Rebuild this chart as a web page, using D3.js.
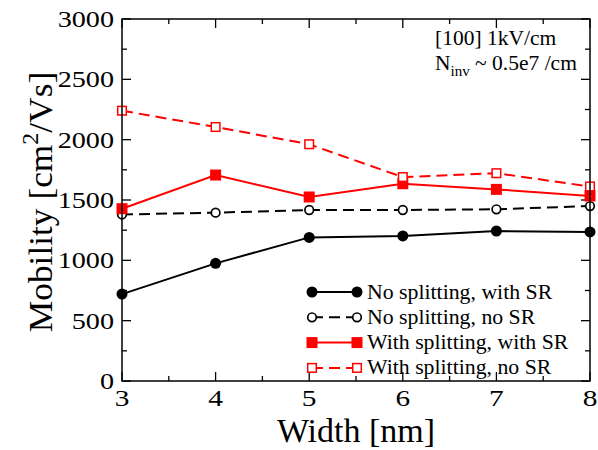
<!DOCTYPE html>
<html><head><meta charset="utf-8">
<script src="https://cdn.jsdelivr.net/npm/d3@7"></script>
<style>body{margin:0;background:#fff}svg{display:block}</style>
</head><body><svg id="c" width="598" height="450" font-family="'Liberation Serif', Tinos, 'Times New Roman', Times, 'DejaVu Serif', serif"></svg>
<script>
const widths = [3, 4, 5, 6, 7, 8];
const noSplitWithSR = [720, 975, 1190, 1202, 1243, 1235];
const noSplitNoSR = [1380, 1395, 1417, 1417, 1423, 1450];
const splitWithSR = [1428, 1707, 1525, 1635, 1588, 1533];
const splitNoSR = [2240, 2105, 1962, 1690, 1722, 1612];
const seriesNames = ["No splitting, with SR", "No splitting, no SR", "With splitting, with SR", "With splitting, no SR"];
const xTicks = [3, 4, 5, 6, 7, 8];
const yTicks = [0, 500, 1000, 1500, 2000, 2500, 3000];

const series = [
  {name: seriesNames[0], values: noSplitWithSR, color: "#000", dash: null, marker: "circle", fill: true},
  {name: seriesNames[1], values: noSplitNoSR, color: "#000", dash: "11,6", marker: "circle", fill: false},
  {name: seriesNames[2], values: splitWithSR, color: "#ff0000", dash: null, marker: "square", fill: true},
  {name: seriesNames[3], values: splitNoSR, color: "#ff0000", dash: "11,6", marker: "square", fill: false}
];

const FF = "'Liberation Serif', Tinos, 'Times New Roman', Times, 'DejaVu Serif', serif";
const svg = d3.select("#c");
const L = 122, R = 590, T = 19, B = 381;
const x = d3.scaleLinear().domain([3, 8]).range([L, R]);
const y = d3.scaleLinear().domain([0, 3000]).range([B, T]);

const g = svg.append("g");
function ticks(vals, len, horiz) {
  vals.forEach(v => {
    if (horiz) {
      g.append("line").attr("x1", x(v)).attr("x2", x(v)).attr("y1", B).attr("y2", B - len).attr("stroke", "#000").attr("stroke-width", 1.3);
      g.append("line").attr("x1", x(v)).attr("x2", x(v)).attr("y1", T).attr("y2", T + len).attr("stroke", "#000").attr("stroke-width", 1.3);
    } else {
      g.append("line").attr("y1", y(v)).attr("y2", y(v)).attr("x1", L).attr("x2", L + len).attr("stroke", "#000").attr("stroke-width", 1.3);
      g.append("line").attr("y1", y(v)).attr("y2", y(v)).attr("x1", R).attr("x2", R - len).attr("stroke", "#000").attr("stroke-width", 1.3);
    }
  });
}
ticks(d3.range(3, 8.01, 1), 9, true);
ticks(d3.range(3.5, 8, 1), 5, true);
ticks(d3.range(0, 3001, 500), 9, false);
ticks(d3.range(250, 3000, 500), 5, false);

const line = d3.line().x((d, i) => x(widths[i])).y(d => y(d));
series.forEach(s => {
  svg.append("path").attr("d", line(s.values)).attr("fill", "none").attr("stroke", s.color)
    .attr("stroke-width", 2).attr("stroke-dasharray", s.dash);
});

function marker(sel, s, cx, cy) {
  if (s.marker === "circle") {
    sel.append("circle").attr("cx", cx).attr("cy", cy).attr("r", s.fill ? 5.5 : 4.3)
      .attr("fill", s.fill ? s.color : "#fff").attr("stroke", s.color).attr("stroke-width", s.fill ? 0 : 1.7);
  } else {
    const h = s.fill ? 5.5 : 4.3;
    sel.append("rect").attr("x", cx - h).attr("y", cy - h).attr("width", 2 * h).attr("height", 2 * h)
      .attr("fill", s.fill ? s.color : "#fff").attr("stroke", s.color).attr("stroke-width", s.fill ? 0 : 1.5);
  }
}
const mk = svg.append("g");
series.forEach(s => s.values.forEach((v, i) => marker(mk, s, x(widths[i]), y(v))));

svg.append("rect").attr("x", L).attr("y", T).attr("width", R - L).attr("height", B - T)
  .attr("fill", "none").attr("stroke", "#000").attr("stroke-width", 1.5);

// tick labels (wide digits as in the reference)
svg.selectAll(".yl").data(yTicks).enter().append("g").attr("transform", d => `translate(${L - 8},${y(d) + 8})`)
  .append("text").attr("font-family", FF).attr("transform", "scale(1.2,1)")
  .attr("text-anchor", "end").attr("font-size", 23.5).text(d => d);
svg.selectAll(".xl").data(xTicks).enter().append("g").attr("transform", d => `translate(${x(d)},${B + 25})`)
  .append("text").attr("font-family", FF).attr("transform", "scale(1.25,1)")
  .attr("text-anchor", "middle").attr("font-size", 23.5).text(d => d);

svg.append("text").attr("font-family", FF).attr("x", (L + R) / 2).attr("y", 442).attr("text-anchor", "middle").attr("font-size", 34).text("Width [nm]");
const yt = svg.append("text").attr("font-family", FF).attr("transform", `translate(52,202) rotate(-90) scale(1.04,1)`).attr("text-anchor", "middle").attr("font-size", 34);
yt.append("tspan").text("Mobility [cm");
yt.append("tspan").attr("dy", -14).attr("font-size", 23).text("2");
yt.append("tspan").attr("dy", 14).text("/Vs]");

svg.append("text").attr("font-family", FF).attr("x", 435).attr("y", 45).attr("font-size", 21.5).text("[100] 1kV/cm");
const an = svg.append("text").attr("font-family", FF).attr("x", 435).attr("y", 70).attr("font-size", 21.5);
an.append("tspan").text("N");
an.append("tspan").attr("dy", 6).attr("font-size", 15).text("inv");
an.append("tspan").attr("dy", -6).text(" ~ 0.5e7 /cm");

const lg = svg.append("g");
series.forEach((s, i) => {
  const cy = 292 + i * 25.3;
  lg.append("line").attr("x1", 312).attr("x2", 357).attr("y1", cy).attr("y2", cy)
    .attr("stroke", s.color).attr("stroke-width", 2).attr("stroke-dasharray", s.dash);
  marker(lg, s, 312, cy);
  marker(lg, s, 357, cy);
  lg.append("g").attr("transform", `translate(367,${cy + 6.5})`)
    .append("text").attr("font-family", FF).attr("transform", "scale(1.09,1)").attr("font-size", 20).text(s.name);
});
</script></body></html>
